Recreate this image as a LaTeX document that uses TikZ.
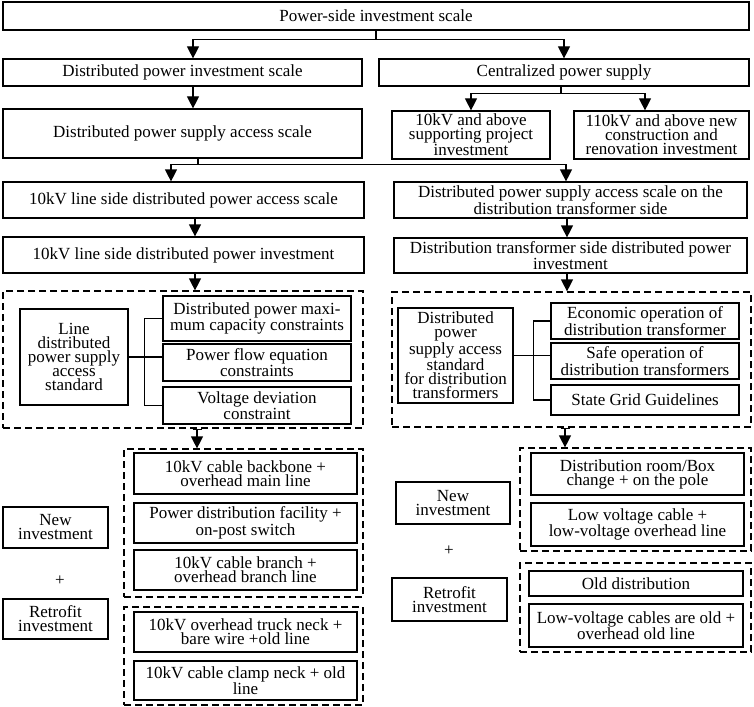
\documentclass[tikz,border=0pt]{standalone}
\usepackage{fontspec}
\setmainfont{Liberation Serif}
\usetikzlibrary{arrows.meta}

\begin{document}
\begin{tikzpicture}[x=1pt,y=-1pt,
    box/.style={draw,line width=1.2pt,inner sep=0pt,align=center,font=\fontsize{17}{14}\selectfont},
    grp/.style={draw,line width=1.2pt,dash pattern=on 7pt off 4pt,inner sep=0pt},
    arr/.style={line width=1.2pt,-{Triangle[length=12pt,width=12pt]}},
    link/.style={line width=1.2pt}]
            \useasboundingbox (0,0) rectangle (754,706);
            \node [box,minimum width=746,minimum height=28] (top) at (376,16) {Power-side investment scale};
            \node [box,minimum width=359,minimum height=27] (dpis) at (182.5,72.5) {Distributed power investment scale};
            \node [box,minimum width=370,minimum height=27] (cps) at (564,72.5) {Centralized power supply};
            \node [box,minimum width=359,minimum height=49] (dpsas) at (182.5,133.5) {Distributed power supply access scale};
            \node [box,minimum width=158,minimum height=48] (above10) at (471,135) {10kV and above\\supporting project\\investment};
            \node [box,minimum width=175,minimum height=48] (above110) at (661.5,135) {110kV and above new\\construction and\\renovation investment};
            \node [box,minimum width=361,minimum height=36] (lineacc) at (183.5,200) {10kV line side distributed power access scale};
            \node [box,minimum width=353,minimum height=36] (dtracc) at (570.5,200) {Distributed power supply access scale on the\\distribution transformer side};
            \node [box,minimum width=361,minimum height=36] (lineinv) at (183.5,255) {10kV line side distributed power investment};
            \node [box,minimum width=353,minimum height=35] (dtrinv) at (570.5,255.5) {Distribution transformer side distributed power\\investment};

            \node [grp,minimum width=360,minimum height=137] (lgrp) at (183,359.5) {};
            \node [box,minimum width=108,minimum height=96] (lstd) at (74,357) {Line\\distributed\\power supply\\access\\standard};
            \node [box,minimum width=188,minimum height=45] (lc1) at (257,318.5) {Distributed power maxi-\\mum capacity constraints};
            \node [box,minimum width=188,minimum height=37] (lc2) at (257,362.5) {Power flow equation\\constraints};
            \node [box,minimum width=188,minimum height=37] (lc3) at (257,405.5) {Voltage deviation\\constraint};

            \node [grp,minimum width=359,minimum height=135] (rgrp) at (571.5,359.5) {};
            \node [box,minimum width=115,minimum height=95] (dstd) at (455.5,355.5) {Distributed\\power\\supply access\\standard\\for distribution\\transformers};
            \node [box,minimum width=188,minimum height=36] (dc1) at (645,321) {Economic operation of\\distribution transformer};
            \node [box,minimum width=188,minimum height=36] (dc2) at (645,361) {Safe operation of\\distribution transformers};
            \node [box,minimum width=188,minimum height=30] (dc3) at (645,400) {State Grid Guidelines};

            \node [grp,minimum width=239,minimum height=148] (lnew) at (243.5,523) {};
            \node [box,minimum width=223,minimum height=41] (ln1) at (245.5,473.5) {10kV cable backbone +\\overhead main line};
            \node [box,minimum width=223,minimum height=40] (ln2) at (245.5,523) {Power distribution facility +\\on-post switch};
            \node [box,minimum width=223,minimum height=40] (ln3) at (245.5,570) {10kV cable branch +\\overhead branch line};
            \node [grp,minimum width=239,minimum height=98] (lret) at (243.5,656) {};
            \node [box,minimum width=223,minimum height=40] (lr1) at (245.5,632) {10kV overhead truck neck +\\bare wire +old line};
            \node [box,minimum width=223,minimum height=39] (lr2) at (245.5,680.5) {10kV cable clamp neck + old\\line};
            \node [box,minimum width=105,minimum height=41] (lnewinv) at (55.5,527.5) {New\\investment};
            \node [font=\fontsize{17}{14}\selectfont] (lplus) at (60,581) {+};
            \node [box,minimum width=105,minimum height=40] (lretinv) at (55.5,619) {Retrofit\\investment};

            \node [grp,minimum width=231,minimum height=103] (rnew) at (635.5,499.5) {};
            \node [box,minimum width=213,minimum height=42] (rn1) at (637.5,474) {Distribution room/Box\\change + on the pole};
            \node [box,minimum width=213,minimum height=43] (rn2) at (637.5,524.5) {Low voltage cable +\\low-voltage overhead line};
            \node [grp,minimum width=231,minimum height=89] (rret) at (635.5,607.5) {};
            \node [box,minimum width=214,minimum height=25] (rr1) at (636,583.5) {Old distribution};
            \node [box,minimum width=214,minimum height=43] (rr2) at (636,625.5) {Low-voltage cables are old +\\overhead old line};
            \node [box,minimum width=114,minimum height=42] (rnewinv) at (453,503) {New\\investment};
            \node [font=\fontsize{17}{14}\selectfont] (rplus) at (449,551) {+};
            \node [box,minimum width=115,minimum height=43] (rretinv) at (449.5,599.5) {Retrofit\\investment};

            \draw [arr] (top.south) -- ++(0,9) -| ([xshift=10.5]dpis.north);
            \draw [arr] (top.south) -- ++(0,9) -| (cps.north);
            \draw [arr] ([xshift=10.5]dpis.south) -- ([xshift=10.5]dpsas.north);
            \draw [arr] ([xshift=-3]cps.south) -- ++(0,7) -| (above10.north);
            \draw [arr] ([xshift=-3]cps.south) -- ++(0,7) -| ([xshift=-16.5]above110.north);
            \draw [arr] ([xshift=15.5]dpsas.south) -- ++(0,6) -| ([xshift=-12.5]lineacc.north);
            \draw [arr] ([xshift=15.5]dpsas.south) -- ++(0,6) -| ([xshift=-4.5]dtracc.north);
            \draw [arr] ([xshift=11.5]lineacc.south) -- ([xshift=11.5]lineinv.north);
            \draw [arr] ([xshift=11.5]lineinv.south) -- ([xshift=12]lgrp.north);
            \draw [arr] ([xshift=-3.5]dtracc.south) -- ([xshift=-3.5]dtrinv.north);
            \draw [arr] ([xshift=-3.5]dtrinv.south) -- ([xshift=-4.5]rgrp.north);
            \draw [arr,{Bar[width=9pt]}-{Triangle[length=12pt,width=12pt]}] ([xshift=14]lgrp.south) -- ([xshift=-46.5]lnew.north);
            \draw [arr,{Bar[width=9pt]}-{Triangle[length=12pt,width=12pt]}] ([xshift=-6.5]rgrp.south) -- ([xshift=-70.5]rnew.north);

            \draw [link] (lc1.west) -- ++(-18,0) |- (lc3.west);
            \draw [link] (lstd.east) -- (lstd.east -| lc2.west);
            \draw [link] (dc1.west) -- ++(-17,0) |- (dc3.west);
            \draw [link] (dstd.east) -- (dstd.east -| dc2.west);
        \end{tikzpicture}
\end{document}
